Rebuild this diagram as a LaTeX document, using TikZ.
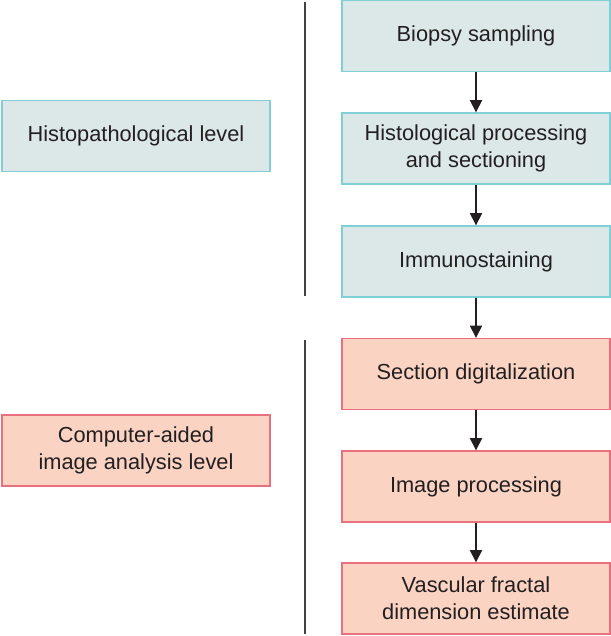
\documentclass[tikz,border=0pt]{standalone}
\usepackage{fontspec}
\setmainfont{Liberation Sans}
\usetikzlibrary{arrows.meta}

\definecolor{histfill}{HTML}{DCE8E8}
\definecolor{histline}{HTML}{7ECFD6}
\definecolor{compfill}{HTML}{FAD3C3}
\definecolor{compline}{HTML}{E8707F}
\definecolor{txt}{HTML}{231F20}

\begin{document}
\begin{tikzpicture}[x=0.02cm, y=-0.02cm,
    every node/.style={font=\fontsize{12.4}{15.5}\selectfont, text=txt, align=center, inner sep=0pt},
    histbox/.style={draw=histline, fill=histfill, line width=0.8pt, minimum width=5.36cm, minimum height=1.42cm},
    compbox/.style={draw=compline, fill=compfill, line width=0.8pt, minimum width=5.36cm, minimum height=1.42cm},
    flow/.style={-{Triangle[width=7pt,length=7pt]}, line width=0.8pt, txt}]
    \useasboundingbox (0,0) rectangle (611,636);

    % Define coordinates
    \coordinate (c1) at (476,36);
    \coordinate (c2) at (476,148.5);
    \coordinate (c3) at (476,261.5);
    \coordinate (c4) at (476,374);
    \coordinate (c5) at (476,486.5);
    \coordinate (c6) at (476,598.5);

    % Level boxes
    \node[histbox] (histlevel) at (136,136) {Histopathological level};
    \node[compbox] (complevel) at (136,450.5) {Computer-aided\\image analysis level};

    % Separator lines
    \draw[line width=1.2pt, txt!85] (305,2) -- (305,296);
    \draw[line width=1.2pt, txt!85] (305,340) -- (305,634);

    % Steps
    \node[histbox] (biopsy) at (c1) {Biopsy sampling};
    \node[histbox] (processing) at (c2) {Histological processing\\and sectioning};
    \node[histbox] (staining) at (c3) {Immunostaining};
    \node[compbox] (digital) at (c4) {Section digitalization};
    \node[compbox] (imageproc) at (c5) {Image processing};
    \node[compbox] (fractal) at (c6) {Vascular fractal\\dimension estimate};

    % Draw directed edges
    \draw[flow] (biopsy) -- (processing);
    \draw[flow] (processing) -- (staining);
    \draw[flow] (staining) -- (digital);
    \draw[flow] (digital) -- (imageproc);
    \draw[flow] (imageproc) -- (fractal);

\end{tikzpicture}
\end{document}
